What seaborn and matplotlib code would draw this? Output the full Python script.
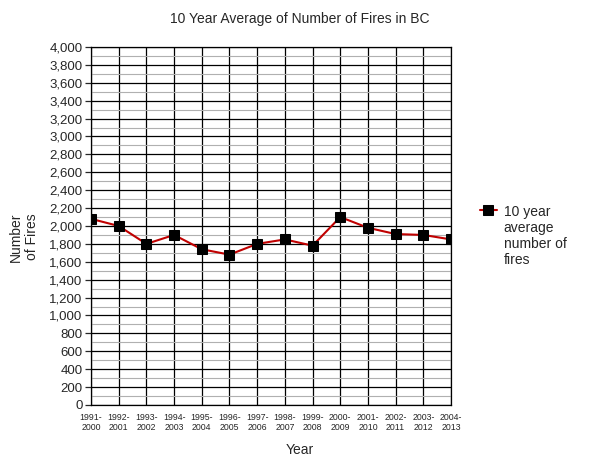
import seaborn as sns
import matplotlib.pyplot as plt
import pandas as pd
from matplotlib.ticker import MultipleLocator, FuncFormatter

periods = ['1991-\n2000', '1992-\n2001', '1993-\n2002', '1994-\n2003', '1995-\n2004',
           '1996-\n2005', '1997-\n2006', '1998-\n2007', '1999-\n2008', '2000-\n2009',
           '2001-\n2010', '2002-\n2011', '2003-\n2012', '2004-\n2013']
avg_fires = [2080, 2000, 1800, 1900, 1740, 1680, 1800, 1850, 1780, 2100, 1980, 1910, 1900, 1850]

df = pd.DataFrame({'period': periods, 'fires': avg_fires})

sns.set_style('white')
plt.rcParams['font.family'] = ['Liberation Sans', 'DejaVu Sans']

fig = plt.figure(figsize=(6, 4.63), dpi=100)
ax = fig.add_axes([0.1517, 0.1253, 0.6, 0.7732])

sns.lineplot(data=df, x='period', y='fires', ax=ax, color='#c00000', lw=1.5,
             marker='s', markersize=7.5, markerfacecolor='black', markeredgecolor='black',
             label='10 year\naverage\nnumber of\nfires', sort=False)

ax.set_xlim(0, len(periods) - 1)
ax.set_ylim(0, 4000)
ax.yaxis.set_major_locator(MultipleLocator(200))
ax.yaxis.set_minor_locator(MultipleLocator(100))
ax.yaxis.set_major_formatter(FuncFormatter(lambda v, p: f'{int(v):,}'))

ax.grid(which='minor', axis='y', color='#b0b0b0', lw=0.8)
ax.grid(which='major', axis='y', color='black', lw=0.9)
ax.grid(which='major', axis='x', color='black', lw=0.9)
ax.set_axisbelow(True)

for s in ax.spines.values():
    s.set_color('black')
    s.set_linewidth(0.9)

ax.tick_params(axis='y', which='major', left=True, length=4, width=0.9, labelsize=9.5, pad=2)
ax.tick_params(axis='y', which='minor', left=False)
ax.tick_params(axis='x', bottom=False, labelsize=6.3, pad=2)

ax.set_xlabel('')
ax.set_ylabel('')
fig.text(0.5, 0.028, 'Year', ha='center', va='center', fontsize=10)
fig.text(0.04, 0.488, 'Number\nof Fires', rotation=90, ha='center', va='center',
         multialignment='center', fontsize=10)
fig.text(0.5, 0.96, '10 Year Average of Number of Fires in BC', ha='center', va='center', fontsize=10)

leg = ax.legend(loc='upper left', bbox_to_anchor=(1.065, 0.575), frameon=False, fontsize=10,
                handlelength=1.2, handletextpad=0.5, markerscale=1.0, borderaxespad=0)
# put the marker beside the first line of the label, not its middle
for col in leg._legend_handle_box.get_children():
    for item in col.get_children():
        item.align = 'top'

fig.savefig('out.png', dpi=100)
